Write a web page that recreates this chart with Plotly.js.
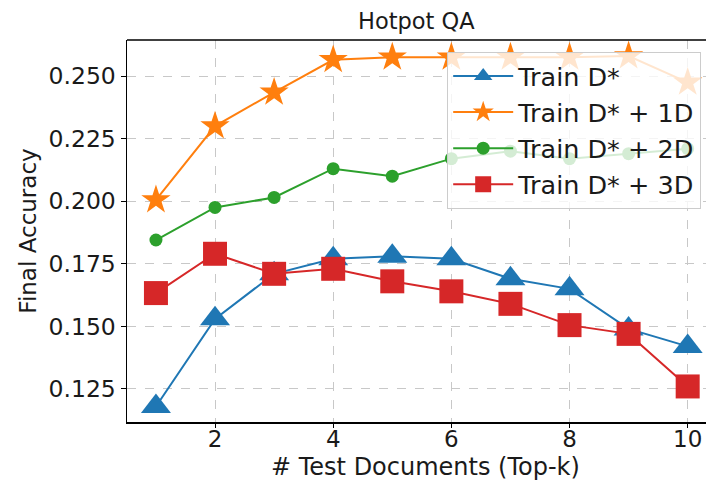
<!DOCTYPE html>
<html>
<head>
<meta charset="utf-8">
<script src="https://cdn.plot.ly/plotly-3.0.1.min.js"></script>
<style>html,body{margin:0;padding:0;background:#fff;}</style>
</head>
<body>
<div id="chart" style="width:706px;height:482px;"></div>
<script>
const topK = [1, 2, 3, 4, 5, 6, 7, 8, 9, 10];
const trainD = [0.118, 0.153, 0.171, 0.177, 0.178, 0.177, 0.169, 0.165, 0.149, 0.142];
const trainD1 = [0.2005, 0.230, 0.2435, 0.2565, 0.2575, 0.2575, 0.2575, 0.2575, 0.258, 0.2475];
const trainD2 = [0.1845, 0.1975, 0.2015, 0.213, 0.210, 0.217, 0.220, 0.217, 0.219, 0.221];
const trainD3 = [0.1633, 0.179, 0.171, 0.173, 0.168, 0.164, 0.159, 0.1505, 0.147, 0.126];
const seriesNames = ["Train D*", "Train D* + 1D", "Train D* + 2D", "Train D* + 3D"];
const xTicks = [2, 4, 6, 8, 10];
const yTicks = [0.125, 0.150, 0.175, 0.200, 0.225, 0.250];

const font = "DejaVu Sans, Liberation Sans, sans-serif";
const ink = "#1a1a1a";
const traces = [
  {x: topK, y: trainD, name: seriesNames[0], mode: "lines+markers",
   line: {color: "#1f77b4", width: 2}, marker: {symbol: "triangle-up", size: 26, color: "#1f77b4"}},
  {x: topK, y: trainD1, name: seriesNames[1], mode: "lines+markers",
   line: {color: "#ff7f0e", width: 2}, marker: {symbol: "star", size: 22, color: "#ff7f0e"}},
  {x: topK, y: trainD2, name: seriesNames[2], mode: "lines+markers",
   line: {color: "#2ca02c", width: 2}, marker: {symbol: "circle", size: 13, color: "#2ca02c"}},
  {x: topK, y: trainD3, name: seriesNames[3], mode: "lines+markers",
   line: {color: "#d62728", width: 2}, marker: {symbol: "square", size: 24, color: "#d62728"}}
];

const layout = {
  width: 706, height: 482,
  margin: {l: 127, r: 0, t: 40, b: 60},
  paper_bgcolor: "#fff", plot_bgcolor: "#fff",
  font: {family: font, color: ink, size: 22},
  xaxis: {
    range: [0.51, 10.31], tickvals: xTicks, ticktext: xTicks.map(String),
    showgrid: true, gridcolor: "#c8c8c8", griddash: "dash", gridwidth: 1,
    showline: true, linecolor: "#000", linewidth: 1.5,
    ticks: "outside", ticklen: 4, tickcolor: "#000", zeroline: false,
    ticklabelstandoff: -8,
    tickfont: {size: 23, family: font, color: ink}
  },
  yaxis: {
    range: [0.1118, 0.2644], tickvals: yTicks, ticktext: yTicks.map(v => v.toFixed(3)),
    showgrid: true, gridcolor: "#c8c8c8", griddash: "dash", gridwidth: 1,
    showline: true, linecolor: "#000", linewidth: 1.5,
    ticks: "outside", ticklen: 5, tickcolor: "#000", zeroline: false,
    tickfont: {size: 23.5, family: font, color: ink},
    title: {text: "Final Accuracy", font: {size: 23, family: font, color: ink}, standoff: 5}
  },
  annotations: [
    {text: "Hotpot QA", xref: "paper", yref: "paper", x: 0.5, y: 1 + 19 / 382,
     xanchor: "center", yanchor: "middle", showarrow: false,
     font: {size: 22.5, family: font, color: ink}},
    {text: "# Test Documents (Top-k)", xref: "paper", yref: "paper",
     x: 0.516, y: -0.1178, xanchor: "center", yanchor: "middle", showarrow: false,
     font: {size: 24, family: font, color: ink}}
  ],
  shapes: [{type: "line", xref: "paper", yref: "paper", x0: 0, x1: 1, y0: 1, y1: 1, line: {color: "#000", width: 1.5}}],
  legend: {
    x: 0.553, y: 0.969, xanchor: "left", yanchor: "top",
    bgcolor: "rgba(255,255,255,0.8)", bordercolor: "#cccccc", borderwidth: 1,
    font: {size: 25.5, family: font, color: ink}, tracegroupgap: 0, itemwidth: 60
  },
  showlegend: true
};

Plotly.newPlot("chart", traces, layout, {displayModeBar: false, staticPlot: true});
</script>
</body>
</html>
